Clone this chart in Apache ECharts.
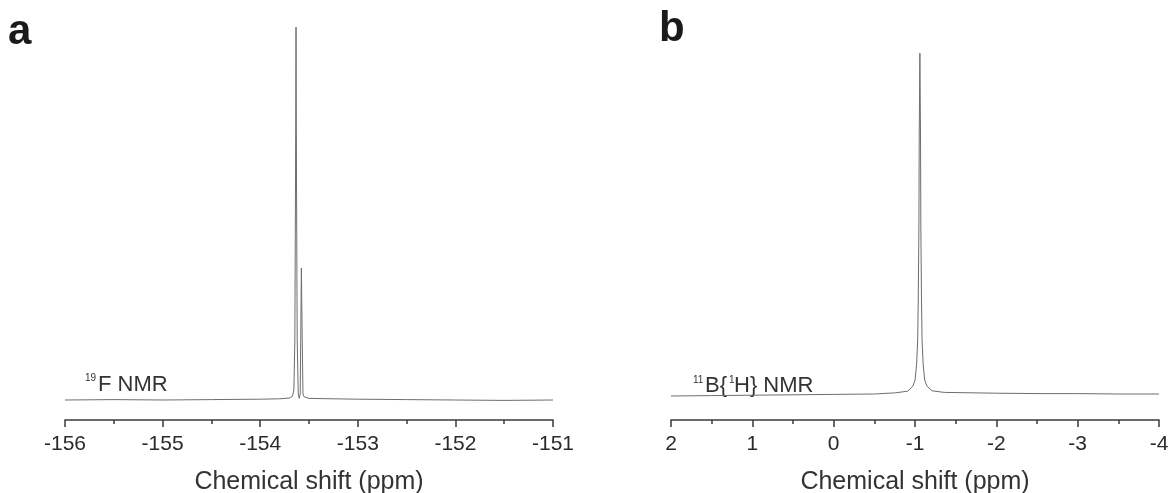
<!DOCTYPE html>
<html>
<head>
<meta charset="utf-8">
<script src="https://cdn.jsdelivr.net/npm/echarts@6/dist/echarts.min.js"></script>
<style>
html,body{margin:0;padding:0;background:#fff;}
#c{width:1171px;height:493px;}
</style>
</head>
<body>
<div id="c"></div>
<script>
// Panel a: 19F NMR
var shiftA = [-156, -155.5, -155, -154.5, -154, -153.8, -153.7, -153.67, -153.655, -153.645, -153.638, -153.633, -153.628, -153.621, -153.61, -153.6, -153.59, -153.583, -153.578, -153.572, -153.562, -153.55, -153.53, -153.5, -153, -152.5, -152, -151.5, -151];
var intensityA = [5.0, 5.1, 5.0, 5.1, 5.2, 5.3, 5.5, 5.9, 7.5, 20, 60, 98.2, 60, 20, 6.5, 5.4, 6.5, 25, 38, 25, 6.5, 5.8, 5.3, 5.4, 5.2, 5.1, 5.0, 4.9, 5.0];
// Panel b: 11B{1H} NMR
var shiftB = [2.0, 1.5, 1.0, 0.5, 0.0, -0.5, -0.76, -0.91, -0.974, -1.001, -1.02, -1.033, -1.04, -1.048, -1.052, -1.06, -1.068, -1.072, -1.08, -1.087, -1.1, -1.119, -1.146, -1.21, -1.36, -2.0, -2.5, -3.0, -3.5, -4.0];
var intensityB = [6.0, 6.1, 6.2, 6.3, 6.4, 6.5, 6.8, 7.2, 8.5, 10, 14, 20, 30, 48, 71, 91.7, 71, 48, 30, 20, 14, 10, 8.5, 7.3, 6.9, 6.7, 6.6, 6.6, 6.5, 6.5];
var ticksA = {min: -156, max: -151, interval: 1};
var ticksB = {min: -4, max: 2, interval: 1};
var axisName = 'Chemical shift (ppm)';

function zip(xs, ys){ return xs.map(function(x,i){ return [x, ys[i]]; }); }

var FONT = '"Liberation Sans", Arial, sans-serif';
var lineColor = '#6e6e6e';
var axisColor = '#3a3a3a';

function xAxis(idx, t, inverse){
  return {
    type: 'value', gridIndex: idx, min: t.min, max: t.max, interval: t.interval, inverse: inverse,
    name: axisName, nameLocation: 'middle', nameGap: 50,
    nameTextStyle: {fontFamily: FONT, fontSize: 25, color: '#333'},
    axisLine: {show: true, onZero: false, lineStyle: {color: axisColor, width: 1.5}},
    axisTick: {show: true, length: 7, lineStyle: {color: axisColor, width: 1.5}},
    minorTick: {show: true, splitNumber: 2, length: 4, lineStyle: {color: axisColor, width: 1.5}},
    axisLabel: {fontFamily: FONT, fontSize: 21, color: '#2a2a2a', margin: 14},
    splitLine: {show: false}
  };
}
function yAxis(idx){
  return {type: 'value', gridIndex: idx, min: 0, max: 100, show: false, splitLine: {show: false}};
}

var chart = echarts.init(document.getElementById('c'), null, {renderer: 'canvas'});
chart.setOption({
  animation: false,
  backgroundColor: '#ffffff',
  grid: [
    {left: 65, width: 488, top: 20, height: 400, containLabel: false, outerBoundsMode: 'none'},
    {left: 671, width: 488, top: 20, height: 400, containLabel: false, outerBoundsMode: 'none'}
  ],
  xAxis: [xAxis(0, ticksA, false), xAxis(1, ticksB, true)],
  yAxis: [yAxis(0), yAxis(1)],
  series: [
    {type: 'line', xAxisIndex: 0, yAxisIndex: 0, data: zip(shiftA, intensityA), showSymbol: false, smooth: false,
     lineStyle: {color: lineColor, width: 1}},
    {type: 'line', xAxisIndex: 1, yAxisIndex: 1, data: zip(shiftB, intensityB), showSymbol: false, smooth: false,
     lineStyle: {color: lineColor, width: 1}}
  ],
  graphic: [
    {type: 'text', left: 8, top: 11, style: {text: 'a', fontFamily: FONT, fontSize: 42, fontWeight: 'bold', fill: '#1a1a1a'}},
    {type: 'text', left: 659, top: 8, style: {text: 'b', fontFamily: FONT, fontSize: 42, fontWeight: 'bold', fill: '#1a1a1a'}},
    {type: 'text', left: 85, top: 373, style: {text: '19', fontFamily: FONT, fontSize: 10, fill: '#333'}},
    {type: 'text', left: 98, top: 374, style: {text: 'F NMR', fontFamily: FONT, fontSize: 22, fill: '#333'}},
    {type: 'text', left: 693, top: 375, style: {text: '11', fontFamily: FONT, fontSize: 10, fill: '#333'}},
    {type: 'text', left: 705, top: 375, style: {text: 'B{', fontFamily: FONT, fontSize: 22, fill: '#333'}},
    {type: 'text', left: 729, top: 375, style: {text: '1', fontFamily: FONT, fontSize: 10, fill: '#333'}},
    {type: 'text', left: 734, top: 375, style: {text: 'H} NMR', fontFamily: FONT, fontSize: 22, fill: '#333'}}
  ]
});
</script>
</body>
</html>
